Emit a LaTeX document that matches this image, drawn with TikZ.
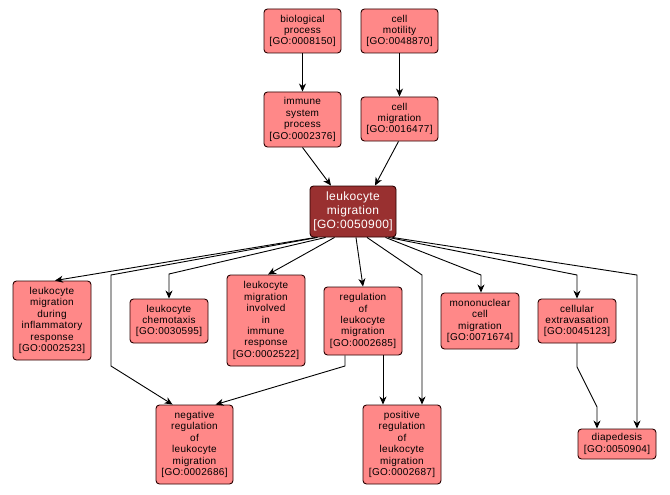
\documentclass[tikz,border=0pt]{standalone}
\usepackage{fontspec}
\setmainfont{Liberation Sans}[LetterSpace=3]
\usetikzlibrary{arrows.meta}
\definecolor{gofill}{RGB}{255,136,136}
\definecolor{gomain}{RGB}{153,48,48}
\definecolor{goedge}{RGB}{40,0,0}
\tikzset{
  gobox/.style={draw=goedge, line width=0.9pt, fill=gofill, rounded corners=3.5pt,
    align=center, inner sep=0pt, font=\fontsize{10}{11.4}\selectfont},
  mainbox/.style={gobox, fill=gomain, text=white, font=\fontsize{12}{14}\selectfont},
  conn/.style={draw=black, line width=0.9pt, -{Stealth[length=8pt,width=7pt,inset=2.5pt]}},
}
\begin{document}
\begin{tikzpicture}[x=1pt,y=-1pt]
\useasboundingbox[fill=white] (0,0) rectangle (670,495);
\node[gobox, minimum width=77pt, minimum height=44pt] (bp) at (302.5,31) {biological\\process\\{}[GO:0008150]};
\node[gobox, minimum width=77pt, minimum height=44pt] (cmot) at (399.5,31) {cell\\motility\\{}[GO:0048870]};
\node[gobox, minimum width=77pt, minimum height=55pt] (isp) at (302.5,119.5) {immune\\system\\process\\{}[GO:0002376]};
\node[gobox, minimum width=77pt, minimum height=44pt] (cmig) at (399.5,119) {cell\\migration\\{}[GO:0016477]};
\node[mainbox, minimum width=86pt, minimum height=51pt] (lm) at (353,211.5) {leukocyte\\migration\\{}[GO:0050900]};
\node[gobox, minimum width=78pt, minimum height=79pt] (lmdir) at (52,320.5) {leukocyte\\migration\\during\\inflammatory\\response\\{}[GO:0002523]};
\node[gobox, minimum width=78pt, minimum height=44pt] (chemo) at (169,321) {leukocyte\\chemotaxis\\{}[GO:0030595]};
\node[gobox, minimum width=78pt, minimum height=91pt] (lmiir) at (266,320.5) {leukocyte\\migration\\involved\\in\\immune\\response\\{}[GO:0002522]};
\node[gobox, minimum width=78pt, minimum height=68pt] (rlm) at (363,321) {regulation\\of\\leukocyte\\migration\\{}[GO:0002685]};
\node[gobox, minimum width=78pt, minimum height=56pt] (mcm) at (480,321) {mononuclear\\cell\\migration\\{}[GO:0071674]};
\node[gobox, minimum width=78pt, minimum height=44pt] (ce) at (577,321) {cellular\\extravasation\\{}[GO:0045123]};
\node[gobox, minimum width=77pt, minimum height=79pt] (nrlm) at (194.5,444.5) {negative\\regulation\\of\\leukocyte\\migration\\{}[GO:0002686]};
\node[gobox, minimum width=78pt, minimum height=79pt] (prlm) at (402,444.5) {positive\\regulation\\of\\leukocyte\\migration\\{}[GO:0002687]};
\node[gobox, minimum width=78pt, minimum height=30pt] (diap) at (617,444) {diapedesis\\{}[GO:0050904]};
% connectors
\draw[conn] (bp) -- (isp);
\draw[conn] (cmot) -- (cmig);
\draw[conn] (isp.south) -- ([xshift=-22pt]lm.north);
\draw[conn] ([xshift=-1pt]cmig.south) -- ([xshift=22pt]lm.north);
\draw[conn] ([xshift=6pt]lm.south west) -- ([xshift=3pt]lmdir.north);
\draw[conn] ([xshift=8pt]lm.south west) -- (111,275) -- (111,366) -- ([xshift=17pt]nrlm.north west);
\draw[conn] ([xshift=16pt]lm.south west) -- (169,274) -- (chemo.north);
\draw[conn] ([xshift=25pt]lm.south west) -- ([xshift=2pt]lmiir.north);
\draw[conn] ([xshift=3pt]lm.south) -- (rlm.north);
\draw[conn] ([xshift=14pt]lm.south) -- (422,275) -- ([xshift=20pt]prlm.north);
\draw[conn] ([xshift=-11pt]lm.south east) -- (481,275) -- ([xshift=1pt]mcm.north);
\draw[conn] ([xshift=-8pt]lm.south east) -- (577,275) -- (ce.north);
\draw[conn] ([xshift=-4pt]lm.south east) -- (637,275) -- ([xshift=20pt]diap.north);
\draw[conn] ([xshift=-18pt]rlm.south) -- (345,366) -- ([xshift=60pt]nrlm.north west);
\draw[conn] ([xshift=20pt]rlm.south) -- ([xshift=-19pt]prlm.north);
\draw[conn] (ce.south) -- (577,367) -- (597,407) -- ([xshift=-20pt]diap.north);
\end{tikzpicture}
\end{document}
